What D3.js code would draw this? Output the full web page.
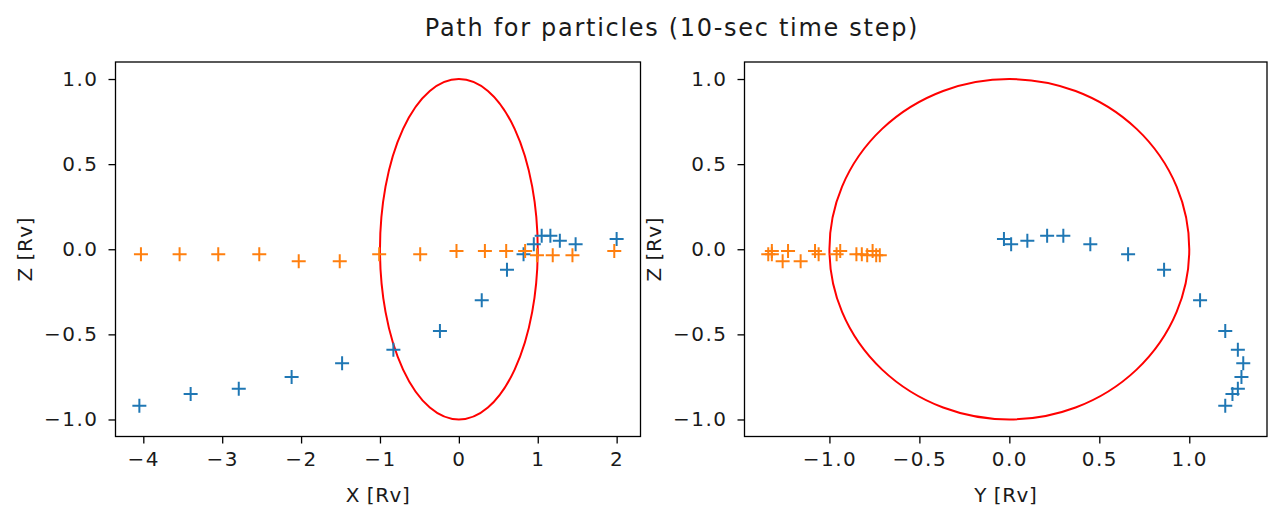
<!DOCTYPE html>
<html>
<head>
<meta charset="utf-8">
<script src="https://cdn.jsdelivr.net/npm/d3@7"></script>
<style>
  body { margin: 0; background: #fff; }
  svg text { font-family: "DejaVu Sans", sans-serif; fill: #1a1a1a; }
</style>
</head>
<body>
<div id="chart"></div>
<script>
// Particle positions (units of Rv)
const blueX = [2.0, 1.48, 1.28, 1.16, 1.05, 0.95, 0.82, 0.61, 0.29, -0.24, -0.83, -1.48, -2.12, -2.79, -3.40, -4.05];
const blueY = [-0.03, 0.01, 0.10, 0.21, 0.30, 0.45, 0.66, 0.86, 1.06, 1.20, 1.27, 1.30, 1.29, 1.27, 1.24, 1.20];
const blueZ = [0.06, 0.03, 0.05, 0.08, 0.08, 0.03, -0.03, -0.12, -0.30, -0.48, -0.59, -0.67, -0.75, -0.82, -0.85, -0.92];

const orangeX = [1.97, 1.44, 1.19, 0.99, 0.84, 0.60, 0.33, -0.03, -0.49, -1.01, -1.51, -2.03, -2.53, -3.05, -3.54, -4.03];
const orangeY = [-0.76, -0.72, -0.74, -0.79, -0.94, -1.08, -1.23, -1.32, -0.82, -0.85, -1.16, -1.26, -0.96, -1.06, -1.32, -1.34];
const orangeZ = [-0.01, -0.035, -0.035, -0.035, -0.01, -0.01, -0.01, -0.01, -0.03, -0.03, -0.07, -0.07, -0.03, -0.03, -0.03, -0.03];

// planet outline radius (1 Rv)
const radius = 1;

const xTicks = [-4, -3, -2, -1, 0, 1, 2];
const yTicks = [-1.0, -0.5, 0.0, 0.5, 1.0];
const zTicks = [-1.0, -0.5, 0.0, 0.5, 1.0];

const title = "Path for particles (10-sec time step)";

const width = 1268, height = 510;
const plotTop = 62, plotBottom = 436.5;
const tickFont = 20;

const svg = d3.select("#chart").append("svg")
    .attr("width", width)
    .attr("height", height);

// matplotlib-like autoscale: data extent plus 5% margin
function padded(values) {
    const [a, b] = d3.extent(values);
    const m = (b - a) * 0.05;
    return [a - m, b + m];
}

const z = d3.scaleLinear()
    .domain(padded([...blueZ, ...orangeZ, -radius, radius]))
    .range([plotBottom, plotTop]);

const minus = s => s.replace("-", "\u2212");

function panel(xDomainVals, xRange, tickVals, fmt, label, ptsBlue, ptsOrange) {
    const x = d3.scaleLinear().domain(padded(xDomainVals)).range(xRange);
    const g = svg.append("g");

    // red circle of radius 1 Rv
    g.append("ellipse")
        .attr("cx", x(0)).attr("cy", z(0))
        .attr("rx", x(radius) - x(0)).attr("ry", z(0) - z(radius))
        .attr("fill", "none")
        .attr("stroke", "#ff0000")
        .attr("stroke-width", 2);

    const plus = "M-7,0H7M0,-7V7";
    const drawPts = (pts, color) => g.append("g").selectAll("path")
        .data(pts).join("path")
        .attr("d", plus)
        .attr("transform", d => `translate(${x(d[0])},${z(d[1])})`)
        .attr("stroke", color)
        .attr("stroke-width", 2)
        .attr("fill", "none");
    drawPts(ptsBlue, "#1f77b4");
    drawPts(ptsOrange, "#ff7f0e");

    // axes
    const xAxis = g.append("g")
        .attr("transform", `translate(0,${plotBottom})`)
        .call(d3.axisBottom(x).tickValues(tickVals).tickFormat(d => minus(fmt(d))).tickSizeOuter(0).tickSize(7).tickPadding(8));
    const zAxis = g.append("g")
        .attr("transform", `translate(${xRange[0]},0)`)
        .call(d3.axisLeft(z).tickValues(zTicks).tickFormat(d => minus(d3.format(".1f")(d))).tickSizeOuter(0).tickSize(7).tickPadding(10));
    [xAxis, zAxis].forEach(a => {
        a.select(".domain").remove();
        a.selectAll("line").attr("stroke", "#000").attr("stroke-width", 1.3);
        a.selectAll("text").attr("font-size", tickFont).attr("fill", "#1a1a1a")
            .attr("letter-spacing", 1.5);
    });

    // frame
    g.append("rect")
        .attr("x", xRange[0]).attr("y", plotTop)
        .attr("width", xRange[1] - xRange[0]).attr("height", plotBottom - plotTop)
        .attr("fill", "none").attr("stroke", "#000").attr("stroke-width", 1.3);

    g.append("text")
        .attr("x", (xRange[0] + xRange[1]) / 2).attr("y", 502)
        .attr("text-anchor", "middle").attr("font-size", tickFont)
        .attr("letter-spacing", 0.5)
        .text(label);
    g.append("text")
        .attr("transform", `translate(${xRange[0] - 84},${(plotTop + plotBottom) / 2}) rotate(-90)`)
        .attr("text-anchor", "middle").attr("font-size", tickFont)
        .attr("letter-spacing", 0.5)
        .text("Z [Rv]");
}

const zip = (a, b) => a.map((v, i) => [v, b[i]]);

panel([...blueX, ...orangeX, -radius, radius], [115.5, 640.5], xTicks, d3.format("d"), "X [Rv]",
    zip(blueX, blueZ), zip(orangeX, orangeZ));
panel([...blueY, ...orangeY, -radius, radius], [744.5, 1267], yTicks, d3.format(".1f"), "Y [Rv]",
    zip(blueY, blueZ), zip(orangeY, orangeZ));

svg.append("text")
    .attr("x", 672).attr("y", 36)
    .attr("text-anchor", "middle").attr("font-size", 24)
    .attr("letter-spacing", 1.7)
    .text(title);
</script>
</body>
</html>
